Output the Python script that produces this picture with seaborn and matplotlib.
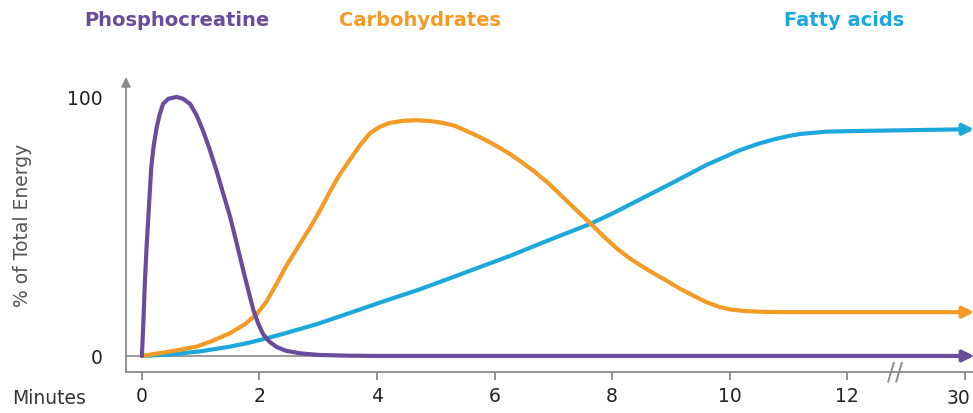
import numpy as np
import pandas as pd
import matplotlib
matplotlib.use("Agg")
import matplotlib.pyplot as plt
import seaborn as sns

PURPLE = "#6A4C9C"
ORANGE = "#F39B25"
BLUE = "#1DA8DB"
GRAY = "#8A8A8A"

# minutes -> % of total energy
pc_min = [0, 0.02, 0.05, 0.08, 0.11, 0.16, 0.2, 0.25, 0.3, 0.36, 0.45, 0.59, 0.7, 0.82, 0.93, 1.04,
          1.15, 1.27, 1.38, 1.5, 1.61, 1.72, 1.82, 1.9, 1.98, 2.06, 2.17, 2.29, 2.45, 2.7, 3.0, 3.5, 4.0, 12, 30]
pc_val = [0, 10, 27.8, 42, 53.6, 73, 81, 88, 93, 97.3, 99.3, 100, 99.3, 97.3, 93, 87,
          80, 71.5, 63, 53.8, 43.8, 33.5, 24.5, 17.5, 12.5, 8.5, 5.5, 3.5, 2, 1, 0.4, 0.1, 0, 0, 0]

carb_min = [0, 0.5, 0.93, 1.2, 1.5, 1.75, 1.95, 2.12, 2.29, 2.45, 2.6, 2.75, 2.9, 3.05, 3.2, 3.35,
            3.54, 3.7, 3.88, 4.05, 4.22, 4.45, 4.68, 4.9, 5.12, 5.33, 5.53, 5.72, 5.92, 6.09, 6.26,
            6.45, 6.66, 6.9, 7.11, 7.37, 7.63, 7.85, 8.08, 8.28, 8.48, 8.7, 8.93, 9.15, 9.38, 9.6,
            9.84, 10.05, 10.29, 10.6, 11.03, 12, 30]
carb_val = [0, 1.8, 3.6, 5.8, 8.8, 12.2, 16, 21, 27.8, 34.5, 40, 45.5, 51, 57, 63.5, 69.5,
            75.8, 81, 86, 88.5, 90, 90.8, 91, 90.7, 90, 88.8, 86.8, 84.8, 82.5, 80.3, 78,
            75, 71.5, 67, 62.5, 56.8, 51.2, 46.3, 41.5, 38, 35, 32, 29, 26, 23.3, 20.8,
            18.8, 17.8, 17.3, 17, 16.9, 16.9, 16.9]

fa_min = [0, 0.5, 1.0, 1.5, 1.84, 2.29, 2.98, 3.5, 4.1, 4.7, 5.24, 5.75, 6.26, 6.9, 7.63, 8.05,
          8.48, 9.04, 9.61, 10.18, 10.5, 10.75, 11.0, 11.2, 11.45, 11.65, 12.2, 30]
fa_val = [0, 0.6, 1.8, 3.6, 5.2, 7.8, 12.3, 16.3, 21, 25.5, 30, 34.3, 38.6, 44.5, 51, 55.5,
          60.5, 67, 73.8, 79.5, 82, 83.6, 84.9, 85.7, 86.2, 86.6, 86.8, 87.5]

tick_min = [0, 2, 4, 6, 8, 10, 12, 30]
names = ["Phosphocreatine", "Carbohydrates", "Fatty acids"]
colors = [PURPLE, ORANGE, BLUE]
title_px = [84, 339, 784]


def to_pos(m):
    # axis is broken after 12 min: 12..30 squeezed into 2 units
    m = np.asarray(m, dtype=float)
    return np.where(m <= 12, m, 12 + (m - 12) * 2 / 18)


frames = []
for name, mins, vals in zip(names, [pc_min, carb_min, fa_min], [pc_val, carb_val, fa_val]):
    frames.append(pd.DataFrame({"pos": to_pos(mins), "energy": vals, "source": name}))
df = pd.concat(frames, ignore_index=True)

sns.set_style("white")
plt.rcParams["font.family"] = ["DejaVu Sans"]

fig = plt.figure(figsize=(9.73, 4.14), dpi=100)
ax = fig.add_axes([126 / 973, 41 / 414, 1 - 126 / 973, (373 - 78) / 414])

ax.axhline(0, color=GRAY, lw=1.2, zorder=1)

# draw fatty acids first so phosphocreatine sits on top
for name, c in zip(names[::-1], colors[::-1]):
    sub = df[df["source"] == name]
    sns.lineplot(data=sub, x="pos", y="energy", color=c, lw=3, sort=False, estimator=None,
                 ax=ax, zorder=3, solid_joinstyle="round", solid_capstyle="round")
    # arrow head at the end of each series
    xe, ye = sub["pos"].values[-1], sub["energy"].values[-1]
    ax.annotate("", xy=(xe + 0.16, ye), xytext=(xe - 0.05, ye),
                arrowprops=dict(arrowstyle="-|>", color=c, lw=3, mutation_scale=16,
                                shrinkA=0, shrinkB=0), annotation_clip=False, zorder=4)

ax.set_xlim(-0.27, 14.14)
ax.set_ylim(-6.2, 107.7)

for s in ["top", "right", "left"]:
    ax.spines[s].set_visible(False)
ax.spines["bottom"].set_color(GRAY)
ax.spines["bottom"].set_linewidth(1.3)

# y axis with arrow
ax.annotate("", xy=(0, 1.0), xytext=(0, 0), xycoords="axes fraction",
            arrowprops=dict(arrowstyle="-|>", color=GRAY, lw=1.3, mutation_scale=14,
                            shrinkA=0, shrinkB=0), annotation_clip=False)

ax.set_xticks(to_pos(tick_min))
ax.set_xticklabels([str(t) for t in tick_min[:-1]] + [""])
ax.set_yticks([0, 100])
ax.set_yticklabels(["0", "100"])
ax.tick_params(axis="x", length=6, width=1.3, color=GRAY, labelsize=13.5, labelcolor="#222222",
               pad=4, bottom=True)
ax.tick_params(axis="y", length=0, labelsize=13.5, labelcolor="#222222", pad=17)

# last tick label nudged left so it stays inside the figure
ax.annotate(str(tick_min[-1]), xy=(to_pos([tick_min[-1]])[0], 0), xycoords=("data", "axes fraction"),
            xytext=(-6, -26), textcoords="offset pixels", ha="center", va="center",
            fontsize=13.5, color="#222222", annotation_clip=False)

ax.set_xlabel("")
ax.set_ylabel("% of Total Energy", fontsize=13.5, color="#555555", labelpad=25)

# axis break marks
ax.text(12.82, -6.2, "//", fontsize=17, color=GRAY, ha="center", va="center", clip_on=False)

fig.text(12 / 973, 1 - 399 / 414, "Minutes", fontsize=13.5, color="#333333", ha="left", va="center")

for name, c, xp in zip(names, colors, title_px):
    fig.text(xp / 973, 1 - 20 / 414, name, fontsize=14, fontweight="bold", color=c,
             ha="left", va="center")

fig.savefig("out.png", dpi=100)
